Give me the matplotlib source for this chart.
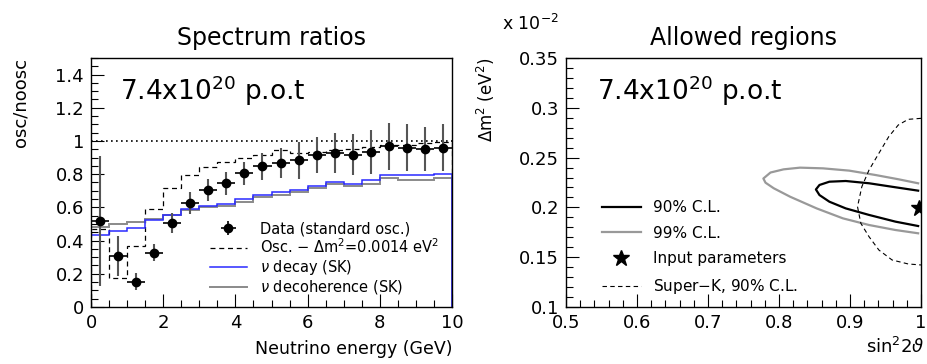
import numpy as np
import matplotlib
matplotlib.use("Agg")
import matplotlib.pyplot as plt
from matplotlib.lines import Line2D

# ---- left panel: spectrum ratios ----
edges = np.linspace(0, 10, 21)
centers = 0.5 * (edges[:-1] + edges[1:])
data_y = [0.518, 0.306, 0.152, 0.328, 0.506, 0.628, 0.704, 0.744, 0.806, 0.848,
          0.870, 0.884, 0.916, 0.930, 0.918, 0.934, 0.968, 0.960, 0.952, 0.960]
data_err = [0.39, 0.12, 0.05, 0.05, 0.06, 0.065, 0.065, 0.07, 0.07, 0.08,
            0.09, 0.11, 0.11, 0.12, 0.125, 0.13, 0.14, 0.14, 0.135, 0.14]
osc_y = [0.47, 0.176, 0.366, 0.588, 0.716, 0.794, 0.846, 0.876, 0.896, 0.918,
         0.944, 0.928, 0.936, 0.944, 0.952, 0.962, 0.974, 0.978, 0.986, 0.992]
decay_y = [0.432, 0.458, 0.478, 0.522, 0.552, 0.590, 0.610, 0.622, 0.650, 0.676,
           0.692, 0.706, 0.730, 0.750, 0.742, 0.762, 0.798, 0.794, 0.794, 0.802]
decoh_y = [0.484, 0.502, 0.512, 0.532, 0.556, 0.586, 0.602, 0.608, 0.634, 0.662,
           0.676, 0.690, 0.718, 0.738, 0.728, 0.742, 0.776, 0.768, 0.768, 0.778]

# ---- right panel: allowed regions (dm2 in units of 1e-2 eV^2) ----
cl99_x = [0.996, 0.9685, 0.936, 0.899, 0.862, 0.8296, 0.8065, 0.788, 0.778,
          0.781, 0.7926, 0.8157, 0.853, 0.89, 0.927, 0.964, 0.996]
cl99_y = [0.2242, 0.2282, 0.2325, 0.2369, 0.2392, 0.2399, 0.2382, 0.235, 0.229,
          0.2248, 0.2192, 0.2107, 0.199, 0.189, 0.1823, 0.1773, 0.174]
cl90_x = [0.996, 0.964, 0.927, 0.894, 0.871, 0.857, 0.852,
          0.857, 0.871, 0.894, 0.927, 0.964, 0.996]
cl90_y = [0.2168, 0.2202, 0.2242, 0.2265, 0.2258, 0.2225, 0.218,
          0.2124, 0.2057, 0.199, 0.1924, 0.1857, 0.1813]
sk_x = [1.0, 0.982, 0.968, 0.9546, 0.9407, 0.9268, 0.9167, 0.9106, 0.9153,
        0.9268, 0.9407, 0.9593, 0.982, 1.0]
sk_y = [0.2894, 0.2884, 0.2827, 0.271, 0.2543, 0.2375, 0.2208, 0.2007, 0.184,
        0.1706, 0.1572, 0.1472, 0.1432, 0.1422]
input_x = [0.997]
input_y = [0.199]

plt.rcParams['font.family'] = 'DejaVu Sans'
fig = plt.figure(figsize=(9.27, 3.64), dpi=100)
ax1 = fig.add_axes([0.0982, 0.1566, 0.3894, 0.6841])
ax2 = fig.add_axes([0.6106, 0.1566, 0.3829, 0.6841])


def style_axis(ax):
    ax.tick_params(which='both', direction='in', top=False, right=False,
                   labelsize=13, width=0.8, pad=5)
    ax.tick_params(which='major', length=9.5)
    ax.tick_params(which='minor', length=5)
    for s in ax.spines.values():
        s.set_linewidth(1.0)


# left panel
ax1.axhline(1.0, color='k', ls=(0, (1, 2)), lw=1.2, zorder=1)
ax1.stairs(osc_y, edges, color='k', ls=(0, (4, 3)), lw=0.9, zorder=2)
ax1.stairs(decoh_y, edges, color='#8a8a8a', lw=1.4, zorder=2)
ax1.stairs(decay_y, edges, color='#2a2aff', lw=1.1, zorder=2)
eb = ax1.errorbar(centers, data_y, xerr=0.25, yerr=data_err, fmt='o', color='k',
                  ecolor='k', ms=6, elinewidth=1.2, capsize=0, zorder=3)
ax1.errorbar(centers, data_y, yerr=data_err, fmt='none', ecolor='#555555',
             elinewidth=1.5, capsize=0, zorder=3.05)
ax1.set_xlim(0, 10)
ax1.set_ylim(0, 1.5)
ax1.set_xticks([0, 2, 4, 6, 8, 10])
ax1.set_xticklabels(['0', '2', '4', '6', '8', '10'])
ax1.set_xticks(np.arange(0, 10.01, 0.5), minor=True)
ax1.set_yticks([0, 0.2, 0.4, 0.6, 0.8, 1.0, 1.2, 1.4])
ax1.set_yticklabels(['0', '0.2', '0.4', '0.6', '0.8', '1', '1.2', '1.4'])
ax1.set_yticks(np.arange(0, 1.51, 0.05), minor=True)
style_axis(ax1)
ax1.set_title('Spectrum ratios', fontsize=17, pad=9)
ax1.set_xlabel('Neutrino energy (GeV)', fontsize=12.5, loc='right', labelpad=6)
ax1.set_ylabel('osc/noosc', fontsize=13, loc='top', labelpad=19)
ax1.text(0.08, 0.831, r'7.4x10$^{20}$ p.o.t', transform=ax1.transAxes,
         fontsize=19, va='baseline')
hh = [eb,
      Line2D([], [], color='k', ls=(0, (4, 3)), lw=0.9),
      Line2D([], [], color='#2a2aff', lw=1.1),
      Line2D([], [], color='#8a8a8a', lw=1.4)]
ll = ['Data (standard osc.)', r'Osc. $-$ $\Delta$m$^2$=0.0014 eV$^2$',
      r'$\nu$ decay (SK)', r'$\nu$ decoherence (SK)']
ax1.legend(hh, ll, loc='upper left',
           bbox_to_anchor=(0.33, 0.345), frameon=False, fontsize=10.5,
           handlelength=2.5, handletextpad=0.9, labelspacing=0.1,
           borderpad=0, borderaxespad=0)

# right panel
ax2.plot(cl90_x, cl90_y, color='k', lw=1.6, label='90% C.L.')
ax2.plot(cl99_x, cl99_y, color='#999999', lw=1.6, label='99% C.L.')
ax2.plot(input_x, input_y, ls='none', marker='*', color='k', ms=12,
         label='Input parameters', clip_on=True)
ax2.plot(sk_x, sk_y, color='k', ls=(0, (4, 3)), lw=0.8, label='Super$-$K, 90% C.L.')
ax2.set_xlim(0.5, 1.0)
ax2.set_ylim(0.1, 0.35)
ax2.set_xticks([0.5, 0.6, 0.7, 0.8, 0.9, 1.0])
ax2.set_xticklabels(['0.5', '0.6', '0.7', '0.8', '0.9', '1'])
ax2.set_xticks(np.arange(0.5, 1.001, 0.02), minor=True)
ax2.set_yticks([0.1, 0.15, 0.2, 0.25, 0.3, 0.35])
ax2.set_yticklabels(['0.1', '0.15', '0.2', '0.25', '0.3', '0.35'])
ax2.set_yticks(np.arange(0.1, 0.351, 0.01), minor=True)
style_axis(ax2)
ax2.set_title('Allowed regions', fontsize=17, pad=9)
ax2.set_xlabel(r'sin$^2$2$\vartheta$', fontsize=13, labelpad=4)
ax2.xaxis.set_label_coords(1.01, -0.12)
ax2.xaxis.label.set_ha('right')
ax2.set_ylabel(r'$\Delta$m$^2$ (eV$^2$)', fontsize=12, loc='top', labelpad=16)
ax2.text(-0.18, 1.112, r'x 10$^{-2}$', transform=ax2.transAxes, fontsize=12.5,
         va='baseline')
ax2.text(0.087, 0.831, r'7.4x10$^{20}$ p.o.t', transform=ax2.transAxes,
         fontsize=19, va='baseline')
ax2.legend(loc='upper left', bbox_to_anchor=(0.1, 0.43), frameon=False,
           fontsize=11, handlelength=2.6, handletextpad=0.8, labelspacing=0.7,
           borderpad=0, borderaxespad=0)

fig.savefig('out.png', dpi=100)
